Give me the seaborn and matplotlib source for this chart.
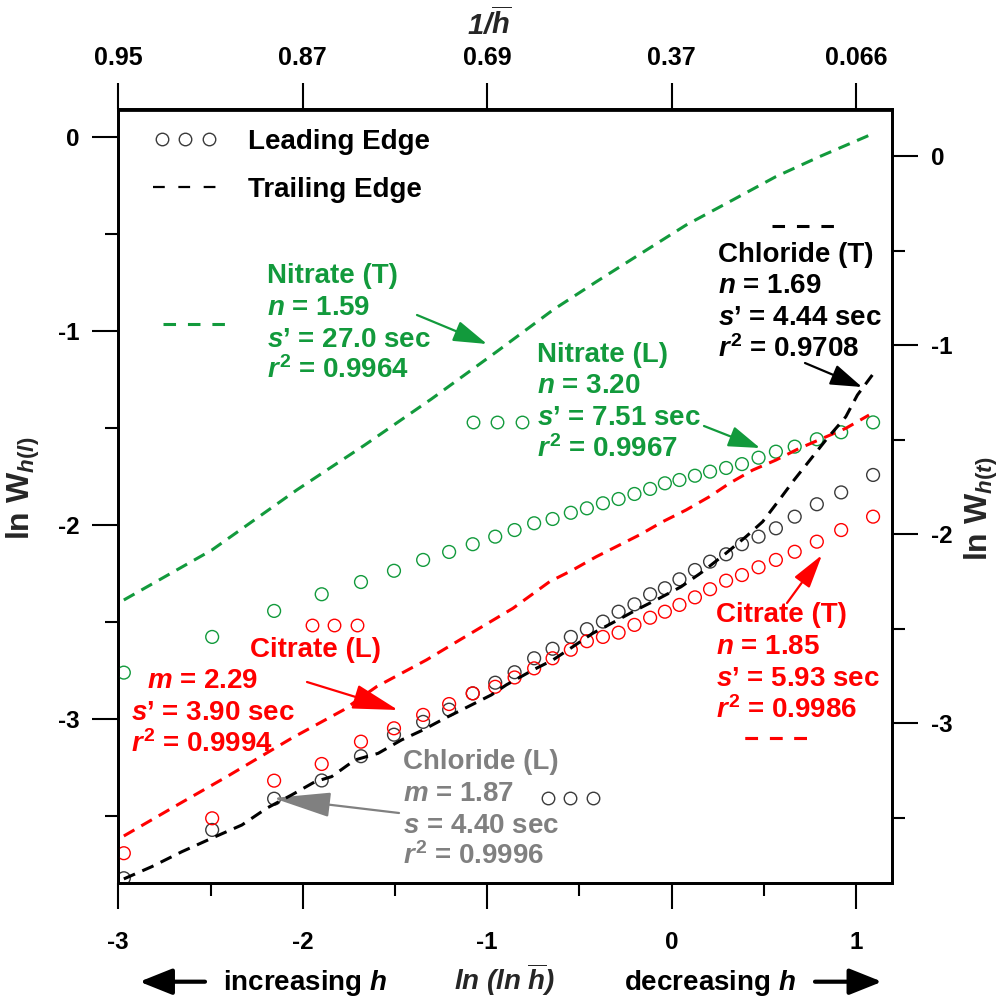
import numpy as np
import matplotlib
matplotlib.use("Agg")
import matplotlib.pyplot as plt
import seaborn as sns
from matplotlib.lines import Line2D
from matplotlib.legend_handler import HandlerLine2D
from matplotlib.ticker import MultipleLocator

# ---------------- data ----------------
lnln_h = [-2.970, -2.491, -2.155, -1.897, -1.684, -1.505, -1.347, -1.206, -1.078, -0.956,
          -0.851, -0.745, -0.645, -0.546, -0.459, -0.372, -0.287, -0.201, -0.116, -0.036,
          0.043, 0.127, 0.209, 0.296, 0.382, 0.472, 0.566, 0.668, 0.788, 0.920, 1.093]

nitrate_L = [-2.761, -2.577, -2.443, -2.357, -2.294, -2.236, -2.180, -2.139, -2.099, -2.060,
             -2.026, -1.991, -1.969, -1.937, -1.914, -1.888, -1.866, -1.840, -1.814, -1.785,
             -1.768, -1.746, -1.725, -1.706, -1.686, -1.653, -1.622, -1.596, -1.558, -1.522, -1.471]

chloride_L = [-3.821, -3.572, -3.411, -3.317, -3.192, -3.081, -3.015, -2.952, -2.868, -2.813,
              -2.759, -2.687, -2.638, -2.577, -2.537, -2.498, -2.447, -2.409, -2.357, -2.326,
              -2.280, -2.232, -2.189, -2.151, -2.099, -2.060, -2.017, -1.957, -1.893, -1.832, -1.742]

citrate_L = [-3.692, -3.512, -3.318, -3.232, -3.117, -3.048, -2.979, -2.923, -2.868, -2.834,
             -2.786, -2.739, -2.687, -2.643, -2.599, -2.577, -2.555, -2.515, -2.478, -2.447,
             -2.412, -2.373, -2.331, -2.287, -2.258, -2.218, -2.180, -2.138, -2.086, -2.026, -1.957]

nitrate_T_x = [-2.970, -2.493, -2.032, -1.663, -1.302, -0.950, -0.643, -0.408, -0.165, 0.079,
               0.331, 0.566, 0.801, 1.054, 1.099]
nitrate_T_y = [-2.348, -2.084, -1.766, -1.528, -1.285, -1.036, -0.814, -0.665, -0.515, -0.365,
               -0.233, -0.109, -0.004, 0.102, 0.122]

citrate_T_x = [-2.970, -2.664, -2.411, -2.060, -1.780, -1.599, -1.329, -1.148, -0.860, -0.661,
               -0.535, -0.408, -0.300, -0.174, -0.048, 0.079, 0.205, 0.314, 0.440, 0.566,
               0.693, 0.819, 0.945, 1.071]
citrate_T_y = [-3.596, -3.423, -3.282, -3.079, -2.930, -2.806, -2.665, -2.559, -2.392, -2.251,
               -2.189, -2.119, -2.066, -2.004, -1.934, -1.872, -1.802, -1.731, -1.661, -1.608,
               -1.546, -1.493, -1.440, -1.370]

chloride_T_x = [-2.970, -2.818, -2.655, -2.475, -2.330, -2.195, -2.060, -1.933, -1.843, -1.717,
                -1.591, -1.464, -1.347, -1.230, -1.103, -0.977, -0.896, -0.751, -0.643, -0.535,
                -0.427, -0.309, -0.192, -0.066, 0.052, 0.169, 0.295, 0.404, 0.494, 0.584,
                0.665, 0.837, 0.945, 1.008, 1.089]
chloride_T_y = [-3.823, -3.758, -3.679, -3.600, -3.538, -3.449, -3.379, -3.309, -3.282, -3.194,
                -3.159, -3.088, -3.035, -2.974, -2.912, -2.850, -2.797, -2.718, -2.665, -2.595,
                -2.524, -2.463, -2.401, -2.339, -2.278, -2.198, -2.101, -2.013, -1.934, -1.819,
                -1.713, -1.502, -1.379, -1.264, -1.158]

bottom_ticks = [-3, -2, -1, 0, 1]
top_tick_labels = ["0.95", "0.87", "0.69", "0.37", "0.066"]
y_ticks = [0, -1, -2, -3]

# ---------------- style ----------------
GREEN = "#129a3c"
RED = "#ff0000"
GRAY = "#808080"
DARK = "#3a3a3a"

sns.set_theme(style="white")
plt.rcParams.update({
    "font.family": ["Liberation Sans", "DejaVu Sans"],
    "font.weight": "bold",
    "axes.labelweight": "bold",
    "axes.unicode_minus": False,
    "mathtext.fontset": "custom",
    "mathtext.rm": "Liberation Sans:bold",
    "mathtext.it": "Liberation Sans:italic:bold",
    "mathtext.bf": "Liberation Sans:bold",
    "axes.edgecolor": "black",
    "xtick.color": "black",
    "ytick.color": "black",
    "text.color": "black",
})

W, H = 1003, 997
def P(px, py):
    return (px / W, 1 - py / H)

fig = plt.figure(figsize=(W / 100, H / 100), dpi=100)
fig.patch.set_facecolor("white")
ax = fig.add_axes([118.3 / W, 1 - 882.5 / H, (891.7 - 118.3) / W, (882.5 - 109.5) / H])
ax.set_facecolor("white")
ax2 = ax.twinx()

# ---------------- marks ----------------
circ_kw = dict(s=85, marker="o", facecolors="none", linewidth=1.0, zorder=3)
sns.scatterplot(x=lnln_h, y=chloride_L, ax=ax, edgecolor=DARK, **circ_kw)
sns.scatterplot(x=lnln_h, y=citrate_L, ax=ax, edgecolor=RED, **circ_kw)
sns.scatterplot(x=lnln_h, y=nitrate_L, ax=ax, edgecolor=GREEN, **circ_kw)

dash_ls = (0, (4.0, 2.6))
sns.lineplot(x=nitrate_T_x, y=nitrate_T_y, ax=ax2, color=GREEN, linewidth=2.2,
             linestyle=dash_ls, sort=False, errorbar=None)
sns.lineplot(x=citrate_T_x, y=citrate_T_y, ax=ax2, color=RED, linewidth=2.2,
             linestyle=dash_ls, sort=False, errorbar=None)
sns.lineplot(x=chloride_T_x, y=chloride_T_y, ax=ax2, color="black", linewidth=2.2,
             linestyle=dash_ls, sort=False, errorbar=None)

# ---------------- axes ----------------
ax.set_xlim(-3.0, 1.194)
ax.set_ylim(-3.843, 0.142)
ax2.set_ylim(-3.842, 0.246)

ax.set_xticks(bottom_ticks)
ax.set_yticks(y_ticks)
ax2.set_yticks(y_ticks)
ax.xaxis.set_minor_locator(MultipleLocator(0.5))
ax.yaxis.set_minor_locator(MultipleLocator(0.5))
ax2.yaxis.set_minor_locator(MultipleLocator(0.5))

ax.tick_params(axis="x", which="major", direction="out", length=19, width=1.5,
               pad=16, labelsize=17.5, bottom=True, top=False)
ax.tick_params(axis="x", which="minor", direction="out", length=9.7, width=1.5,
               bottom=True, top=False)
ax.tick_params(axis="y", which="major", direction="out", length=19, width=1.5,
               pad=9, labelsize=17.5, left=True, right=False)
ax.tick_params(axis="y", which="minor", direction="out", length=9.7, width=1.5,
               left=True, right=False)
ax2.tick_params(axis="y", which="major", direction="out", length=19, width=1.5,
                pad=9, labelsize=17.5, right=True, left=False)
ax2.tick_params(axis="y", which="minor", direction="out", length=9.7, width=1.5,
                right=True, left=False)
for a in (ax, ax2):
    for sp in a.spines.values():
        sp.set_linewidth(2.0)
        sp.set_color("black")
    a.grid(False)

sec = ax.secondary_xaxis("top")
sec.set_xticks(bottom_ticks, labels=top_tick_labels)
sec.tick_params(axis="x", which="major", direction="out", length=19, width=1.5,
                pad=9.5, labelsize=18)
sec.tick_params(axis="x", which="minor", length=0)
sec.spines["top"].set_linewidth(2.0)

for lab in ax.get_xticklabels() + ax.get_yticklabels() + ax2.get_yticklabels() + sec.get_xticklabels():
    lab.set_fontweight("bold")

ax.set_ylabel(r"ln $\mathrm{W}_{h(l)}$", fontsize=23, fontweight="bold", va="center")
ax.yaxis.set_label_coords(*P(23, 488), transform=fig.transFigure)
ax2.set_ylabel(r"ln $\mathrm{W}_{h(t)}$", fontsize=23, fontweight="bold", va="center", rotation=90)
ax2.yaxis.set_label_coords(*P(981, 509), transform=fig.transFigure)
ax.set_xlabel(r"ln (ln $\overline{h}$)", fontsize=20, fontstyle="italic",
              fontweight="bold", va="baseline")
ax.xaxis.set_label_coords(*P(504.6, 990), transform=fig.transFigure)
sec.set_xlabel(r"1/$\overline{h}$", fontsize=21, fontstyle="italic",
               fontweight="bold", va="baseline")
sec.xaxis.set_label_coords(*P(489, 35), transform=fig.transFigure)

# ---------------- main legend ----------------
fs_leg = 20
h_lead = Line2D([], [], linestyle="none", marker="o", markersize=9.0,
                markerfacecolor="none", markeredgecolor=DARK, markeredgewidth=1.0)
h_trail = Line2D([], [], color="black", lw=1.6, linestyle=(0, (5.3, 6.1)))
leg = ax.legend([h_lead, h_trail], ["Leading Edge", "Trailing Edge"],
                loc="upper left", bbox_to_anchor=P(153.3, 129.0),
                bbox_transform=fig.transFigure, frameon=False, numpoints=3,
                handler_map={h_trail: HandlerLine2D(numpoints=1)},
                prop={"size": fs_leg, "weight": "bold"},
                handlelength=64 * 0.72 / fs_leg, handletextpad=1.1,
                labelspacing=0.8, borderpad=0, borderaxespad=0)
ax.add_artist(leg)

# ---------------- inline keys (legend-style symbols next to labels) ----------------
def key(px0, px1, py, color, kind):
    fs = 1.0
    if kind == "o":
        h = Line2D([], [], linestyle="none", marker="o", markersize=9.0,
                   markerfacecolor="none", markeredgecolor=color, markeredgewidth=1.0)
        wpt = (px1 - px0) * 0.72 + 0.6 * fs
        npts = 3
    else:
        h = Line2D([], [], color=color, lw=2.2, linestyle=(0, (4.1, 3.9)))
        wpt = (px1 - px0) * 0.72
        npts = 1
    lg = ax.legend([h], [""], loc="center", bbox_to_anchor=P((px0 + px1) / 2, py),
                   bbox_transform=fig.transFigure, frameon=False, prop={"size": fs},
                   handlelength=wpt / fs, handletextpad=0, borderpad=0,
                   borderaxespad=0, numpoints=npts, handleheight=0.7)
    ax.add_artist(lg)

key(163.3, 228.3, 324, GREEN, "-")
key(473.3, 521.7, 421.7, GREEN, "o")
key(771.7, 835.0, 225.7, "black", "-")
key(311.7, 356.7, 625.0, RED, "o")
key(547.7, 592.7, 798.0, DARK, "o")
key(745.0, 808.3, 738.3, RED, "-")

# ---------------- annotation texts ----------------
fs_t = 20
texts = [
    ("Nitrate (T)", 266.7, 283.3, GREEN), ("$n$ = 1.59", 266.7, 315.0, GREEN),
    ("$s$\u2019 = 27.0 sec", 266.7, 346.7, GREEN), ("$r^2$ = 0.9964", 266.7, 378.3, GREEN),
    ("Nitrate (L)", 536.7, 361.7, GREEN), ("$n$ = 3.20", 536.7, 393.3, GREEN),
    ("$s$\u2019 = 7.51 sec", 536.7, 425.0, GREEN), ("$r^2$ = 0.9967", 536.7, 456.7, GREEN),
    ("Chloride (T)", 718.3, 261.7, "black"), ("$n$ = 1.69", 718.3, 293.3, "black"),
    ("$s$\u2019 = 4.44 sec", 718.3, 325.0, "black"), ("$r^2$ = 0.9708", 718.3, 356.7, "black"),
    ("Citrate (L)", 250.0, 656.7, RED), ("$m$ = 2.29", 146.7, 687.7, RED),
    ("$s$\u2019 = 3.90 sec", 130.7, 720.0, RED), ("$r^2$ = 0.9994", 130.7, 752.3, RED),
    ("Chloride (L)", 402.7, 769.3, GRAY), ("$m$ = 1.87", 402.7, 800.7, GRAY),
    ("$s$ = 4.40 sec", 402.7, 832.7, GRAY), ("$r^2$ = 0.9996", 402.7, 864.3, GRAY),
    ("Citrate (T)", 716.0, 621.7, RED), ("$n$ = 1.85", 716.0, 654.0, RED),
    ("$s$\u2019 = 5.93 sec", 716.0, 686.0, RED), ("$r^2$ = 0.9986", 716.0, 717.7, RED),
]
for s, px, py, c in texts:
    fig.text(*P(px, py), s, color=c, fontsize=fs_t, fontweight="bold",
             ha="left", va="baseline")

# ---------------- pointer arrows ----------------
arrows = [
    ((417, 315), (487, 344), GREEN, 0.8, 0.25),
    ((704, 426), (760, 448), GREEN, 0.75, 0.25),
    ((805, 363), (862, 387), "black", 0.75, 0.25),
    ((307, 682), (398, 710), RED, 1.1, 0.3),
    ((399, 813), (273, 798), GRAY, 1.4, 0.3),
    ((787, 603), (822, 555), RED, 0.8, 0.22),
]
for (x0, y0), (x1, y1), c, hl, hw in arrows:
    ax.annotate("", xy=P(x1, y1), xycoords="figure fraction",
                xytext=P(x0, y0), textcoords="figure fraction",
                arrowprops=dict(arrowstyle=f"-|>,head_length={hl},head_width={hw}",
                                color=c, lw=1.6, mutation_scale=26,
                                shrinkA=0, shrinkB=0))

# ---------------- bottom direction hints ----------------
fig.text(*P(222.6, 990), "increasing $h$", fontsize=20, fontweight="bold",
         ha="left", va="baseline")
fig.text(*P(624, 990), "decreasing $h$", fontsize=20, fontweight="bold",
         ha="left", va="baseline")
for (x0, x1) in [(205, 139.5), (815, 882)]:
    ax.annotate("", xy=P(x1, 981.7), xycoords="figure fraction",
                xytext=P(x0, 981.7), textcoords="figure fraction",
                arrowprops=dict(arrowstyle="-|>,head_length=1.0,head_width=0.4",
                                color="black", lw=3, mutation_scale=20,
                                shrinkA=0, shrinkB=0))

fig.savefig("out.png", dpi=100, facecolor="white")
